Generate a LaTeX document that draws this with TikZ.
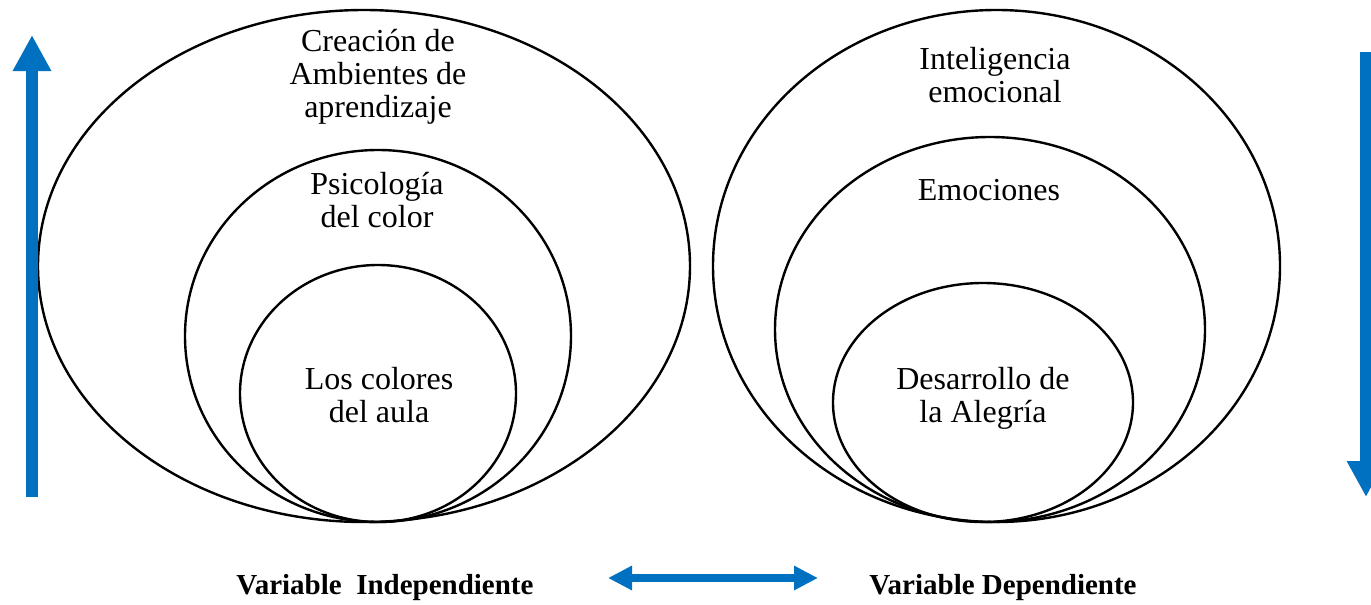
\documentclass[tikz,border=0pt]{standalone}
\usepackage{fontspec}
\setmainfont{Liberation Serif}
\usetikzlibrary{shapes.geometric,arrows.meta}
\definecolor{wordblue}{RGB}{0,112,192}
\tikzset{
  ring/.style={draw=black,line width=2.4pt,ellipse,inner sep=0pt},
  lbl/.style={align=center,inner sep=0pt,font=\fontsize{32pt}{33pt}\selectfont},
  varlbl/.style={inner sep=0pt,font=\fontsize{29pt}{31pt}\selectfont\bfseries},
  bigarrow/.style={draw=wordblue,line width=12pt,-{Triangle[width=36pt,length=36pt]}},
  twoarrow/.style={draw=wordblue,line width=8pt,{Triangle[width=23pt,length=24pt]}-{Triangle[width=23pt,length=24pt]}}
}
\begin{document}
\begin{tikzpicture}[x=1pt,y=-1pt]
\useasboundingbox (0,0) rectangle (1371,605);
% left ellipses
\node[ring,minimum width=652pt,minimum height=512pt] (LO) at (364,266) {};
\node[ring,minimum width=386pt,minimum height=372pt] (LM) at (378,336) {};
\node[ring,minimum width=276pt,minimum height=257pt] (LI) at (378,393.5) {};
% right ellipses
\node[ring,minimum width=567pt,minimum height=512pt] (RO) at (996.5,266) {};
\node[ring,minimum width=430pt,minimum height=385pt] (RM) at (990,329.5) {};
\node[ring,minimum width=300pt,minimum height=239pt] (RI) at (983,402.5) {};
% labels
\node[lbl] (t1) at (378,77) {Creación de\\Ambientes de\\aprendizaje};
\node[lbl] (t2) at (377,200) {Psicología\\del color};
\node[lbl] (t3) at (379,395) {Los colores\\del aula};
\node[lbl] (t4) at (995,75) {Inteligencia\\emocional};
\node[lbl] (t5) at (989,190) {Emociones};
\node[lbl] (t6) at (983,398) {Desarrollo de\\la Alegría};
\node[varlbl] (v1) at (385,588) {Variable\ \ Independiente};
\node[varlbl] (v2) at (1003,588) {Variable Dependiente};
% arrows
\coordinate (la0) at (32,497);
\coordinate (la1) at (32,35);
\coordinate (ra0) at (1366,52);
\coordinate (ra1) at (1366,497);
\coordinate (ba0) at (608,578);
\coordinate (ba1) at (818,578);
\draw[bigarrow] (la0) -- (la1);
\draw[bigarrow] (ra0) -- (ra1);
\draw[twoarrow] (ba0) -- (ba1);
\end{tikzpicture}
\end{document}
